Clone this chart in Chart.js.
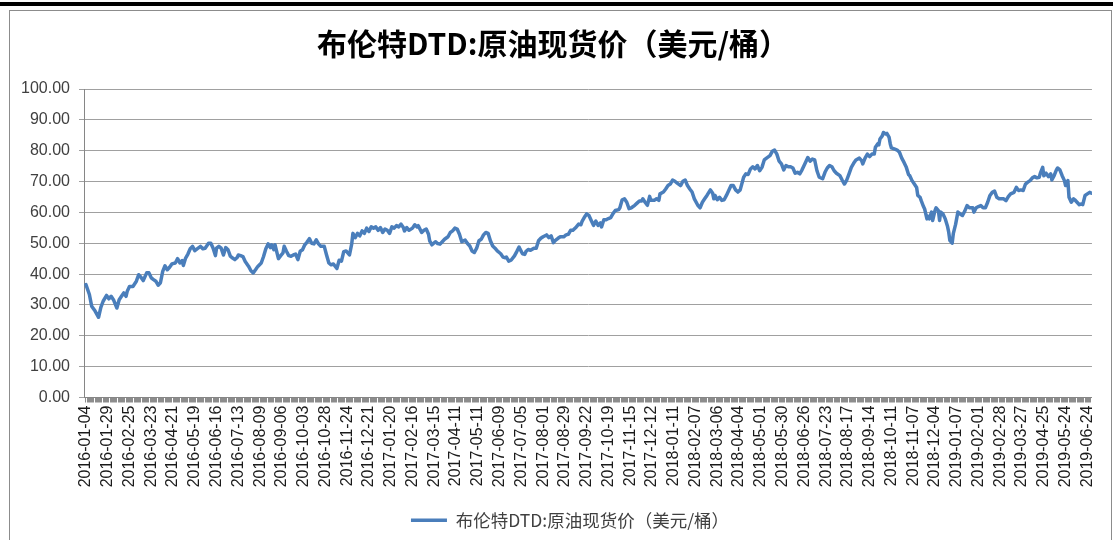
<!DOCTYPE html>
<html>
<head>
<meta charset="utf-8">
<title>布伦特DTD原油现货价</title>
<script src="https://cdn.jsdelivr.net/npm/chart.js"></script>
<style>
  body { margin: 0; background: #fff; }
  #wrap { position: relative; width: 1113px; height: 540px; overflow: hidden; }
  #topbar { position: absolute; left: 0; top: 2px; width: 1113px; height: 4px; background: #000; }
  #frame { position: absolute; left: 9px; top: 10px; width: 1101px; height: 560px; border: 1px solid #8c8c8c; }
  #chart { position: absolute; left: 0; top: 0; }
</style>
</head>
<body>
<div id="wrap">
  <div id="topbar"></div>
  <div id="frame"></div>
  <canvas id="chart" width="1113" height="540"></canvas>
</div>
<script>
const chartTitle = "布伦特DTD:原油现货价（美元/桶）";
const LABEL_STEP = 19;

const tickLabels = [
  "2016-01-04", "2016-01-29", "2016-02-25", "2016-03-23", "2016-04-21", "2016-05-19",
  "2016-06-16", "2016-07-13", "2016-08-09", "2016-09-06", "2016-10-03", "2016-10-28",
  "2016-11-24", "2016-12-21", "2017-01-20", "2017-02-16", "2017-03-15", "2017-04-11",
  "2017-05-11", "2017-06-09", "2017-07-05", "2017-08-01", "2017-08-29", "2017-09-22",
  "2017-10-19", "2017-11-15", "2017-12-12", "2018-01-11", "2018-02-07", "2018-03-06",
  "2018-04-04", "2018-05-01", "2018-05-30", "2018-06-26", "2018-07-23", "2018-08-17",
  "2018-09-14", "2018-10-11", "2018-11-07", "2018-12-04", "2019-01-07", "2019-02-01",
  "2019-02-28", "2019-03-27", "2019-04-25", "2019-05-24", "2019-06-24",
];

// trading day offset from 2016-01-04
const tradeDay = [
  0, 3, 5, 8, 11, 13, 15, 18, 20, 22, 24, 27, 29, 31, 33, 35, 36, 38, 41, 44,
  46, 48, 50, 53, 55, 57, 59, 61, 63, 65, 67, 69, 71, 73, 75, 78, 80, 82, 84, 85,
  87, 89, 91, 93, 95, 97, 100, 102, 104, 107, 109, 111, 113, 114, 116, 118, 120, 122, 124, 126,
  128, 130, 132, 133, 135, 137, 139, 142, 144, 146, 148, 150, 153, 155, 157, 159, 161, 162, 164, 165,
  168, 170, 172, 173, 175, 177, 179, 181, 183, 185, 187, 189, 191, 193, 195, 197, 199, 201, 203, 205,
  208, 210, 212, 214, 216,
  219, 221, 223, 225, 227, 230, 232, 233, 235, 237, 239, 241, 243, 245, 247, 249, 251, 253, 255, 257,
  259, 261, 263, 265, 267, 269, 271, 273, 275, 277, 278, 280, 282, 285, 287, 289, 290, 293, 295, 297,
  299, 300, 302, 305, 307, 309, 311, 313, 316, 318, 320, 322, 324, 326, 328, 331, 333, 335, 337, 339,
  341, 343, 345, 347, 349, 351, 353, 355, 357, 359, 362, 364, 366, 367, 369, 371, 374, 376, 378, 379,
  381, 383, 384, 386, 388, 391, 393, 395, 397, 399, 402, 404, 406, 408, 410, 412, 414, 417, 419, 421,
  423, 425, 428, 430, 432, 433, 435, 437,
  439, 441, 443, 445, 447, 449, 450, 452, 454, 456, 458, 460, 462, 465, 466, 468, 470, 472, 474, 476,
  479, 481, 483, 485, 486, 488, 490, 492, 493, 496, 498, 500, 501, 504, 506, 508, 510, 512, 514, 516,
  519, 521, 523, 525, 527, 529, 531, 534, 536, 538, 540, 542, 545, 547, 548, 549, 551, 553, 555, 557,
  559, 561, 563, 565, 567, 569, 571, 574, 576, 578, 580, 582, 584, 586, 588, 590, 592, 594, 597, 599,
  601, 603, 605, 607, 609, 611, 613, 615, 617, 619, 621, 623, 625, 628, 630, 632, 634, 636, 638, 640,
  643, 645, 647, 649, 651, 653, 655,
  658, 660, 662, 664, 666, 668, 670, 672, 675, 677, 678, 680, 682, 684, 686, 688, 689, 691, 692, 693,
  695, 696, 698, 699, 701, 702, 703, 706, 708, 710, 712, 714, 716, 718, 719, 721, 723, 725, 726, 728,
  729, 731, 732, 734, 735, 736, 738, 739, 741, 742, 744, 745, 746, 748, 750, 752, 753, 754, 756, 757,
  759, 761, 763, 765, 767, 769, 771, 774, 775, 777, 779, 781, 783, 785, 787, 789, 791, 793, 795, 797,
  799, 801, 803, 805, 807, 810, 812, 814, 816, 818, 820, 822, 824, 826, 828, 830, 832, 833, 835, 836,
  838, 840, 842, 843, 845, 847, 848, 850, 852, 854, 855, 857, 858, 860, 862, 863, 865, 867, 869, 870,
  872, 874, 876, 878,
];

// USD per barrel
const price = [
  36.6, 33.4, 29.6, 28.0, 26.0, 29.2, 31.2, 33.1, 32.0, 32.8, 31.7, 29.0, 31.7, 32.8, 33.9, 32.8, 34.4, 36.0, 36.0, 37.7,
  39.8, 39.0, 37.9, 40.4, 40.4, 38.8, 38.2, 37.7, 36.4, 37.2, 40.9, 42.7, 41.4, 42.2, 43.3, 43.6, 45.0, 43.6, 44.4, 42.8,
  45.2, 46.5, 48.2, 49.0, 47.6, 48.2, 49.0, 48.2, 48.4, 50.0, 50.0, 48.4, 46.0, 48.4, 49.0, 48.4, 46.2, 48.6, 47.9, 45.8,
  45.2, 44.7, 45.4, 46.2, 46.0, 45.7, 44.1, 42.5, 41.1, 40.4, 41.4, 42.5, 43.6, 45.7, 48.2, 49.8, 48.6, 49.5, 47.9, 49.5,
  45.0, 46.0, 46.9, 49.0, 47.4, 46.0, 45.8, 46.2, 46.5, 44.7, 47.4, 47.9, 49.5, 50.4, 51.5, 50.0, 49.8, 51.1, 49.8, 49.0,
  49.0, 46.2, 43.6, 43.0, 43.3,
  41.8, 44.5, 44.2, 47.3, 47.5, 46.2, 49.9, 53.2, 51.8, 53.2, 52.4, 54.0, 53.2, 54.9, 53.8, 55.3, 54.9, 55.3, 54.2, 55.1,
  53.5, 54.6, 54.2, 53.2, 55.3, 54.9, 55.7, 55.3, 56.2, 55.1, 54.0, 55.1, 54.2, 54.9, 56.0, 55.3, 55.7, 53.5, 54.2, 54.6,
  52.9, 50.8, 49.5, 50.5, 49.9, 49.7, 50.5, 51.3, 52.1, 53.5, 54.0, 54.9, 54.6, 52.9, 50.5, 51.0, 49.9, 49.1, 47.5, 47.0,
  48.4, 50.8, 51.3, 52.7, 53.5, 53.2, 50.8, 49.1, 48.4, 47.5, 46.6, 45.5, 45.3, 45.5, 44.2, 44.5, 45.9, 47.3, 48.8, 48.0,
  46.6, 46.4, 47.3, 48.0, 47.7, 48.4, 48.4, 50.8, 51.6, 52.1, 52.7, 51.8, 52.4, 50.2, 51.0, 51.6, 52.1, 52.1, 52.7, 52.9,
  54.2, 54.2, 55.3, 56.2, 56.0, 57.1, 58.4, 59.5,
  59.0, 57.4, 55.8, 57.2, 55.8, 56.6, 55.3, 57.6, 57.6, 58.0, 58.3, 59.6, 60.6, 60.9, 61.5, 64.1, 64.4, 63.3, 61.2, 61.5,
  62.3, 63.0, 63.7, 63.7, 64.4, 63.3, 62.3, 65.2, 63.9, 63.9, 64.4, 63.9, 66.0, 66.6, 67.6, 68.7, 69.2, 70.5, 70.1, 69.5,
  68.7, 70.1, 70.5, 68.7, 67.6, 66.6, 64.4, 62.3, 61.5, 63.3, 64.4, 65.5, 67.3, 66.2, 64.4, 65.5, 64.1, 64.9, 63.9, 64.1,
  65.5, 67.1, 68.7, 68.7, 67.3, 66.6, 67.3, 71.4, 72.5, 72.3, 74.1, 74.8, 74.1, 75.2, 73.5, 74.6, 77.0, 77.6, 78.4, 79.8,
  80.2, 78.9, 76.6, 75.7, 73.8, 75.2, 74.8, 74.8, 74.4, 72.7, 73.0, 72.5, 73.8, 76.2, 77.8, 76.6, 77.3, 77.0, 73.5, 71.4,
  70.9, 73.0, 74.4, 75.2, 74.8, 73.5, 72.7,
  71.9, 70.5, 69.2, 70.5, 72.5, 74.6, 75.9, 77.0, 77.6, 76.8, 75.7, 77.6, 78.9, 78.1, 78.9, 78.9, 81.1, 82.2, 81.9, 83.8,
  84.8, 85.9, 85.4, 85.6, 84.3, 82.2, 80.9, 80.5, 80.2, 79.5, 77.6, 76.2, 74.6, 72.2, 71.9, 70.3, 69.2, 68.1, 65.5, 64.9,
  63.8, 61.9, 61.1, 57.9, 58.7, 57.9, 60.1, 57.4, 60.6, 61.5, 60.6, 57.4, 60.1, 59.5, 57.9, 55.4, 53.6, 50.9, 50.0, 53.1,
  56.1, 60.1, 59.5, 59.0, 60.4, 62.2, 61.5, 61.5, 60.1, 61.5, 61.9, 62.2, 61.5, 61.5, 63.3, 65.5, 66.5, 66.9, 64.9, 64.4,
  64.4, 64.4, 63.8, 65.1, 66.0, 66.5, 68.1, 67.1, 67.3, 67.1, 69.2, 69.8, 70.3, 71.2, 71.6, 71.2, 71.4, 72.7, 74.6, 71.9,
  72.7, 71.6, 72.5, 70.5, 71.9, 73.8, 74.4, 73.8, 71.9, 70.3, 68.7, 70.3, 64.9, 63.3, 64.4, 64.1, 63.3, 62.5, 62.8, 62.5,
  65.5, 66.0, 66.5, 66.2,
];

const points = price.map((v, i) => ({ x: tradeDay[i], y: v }));

// one small tick mark per trading day, like the category axis in the original
const dayTicks = [];
for (let d = 0; d <= 877; d++) dayTicks.push({ value: d });

// the legend sits a little right of centre in the original
const legendShift = {
  id: "legendShift",
  afterLayout(chart) {
    chart.legend.left += 17;
    chart.legend.right += 17;
  },
};

const ctx = document.getElementById("chart").getContext("2d");
new Chart(ctx, {
  type: "line",
  data: {
    datasets: [
      {
        label: chartTitle,
        data: points,
        borderColor: "#4a7ebb",
        backgroundColor: "#4a7ebb",
        borderWidth: 3.5,
        pointRadius: 0,
        pointStyle: "line",
        tension: 0,
        borderJoinStyle: "round",
        borderCapStyle: "round",
      },
    ],
  },
  plugins: [legendShift],
  options: {
    responsive: false,
    animation: false,
    layout: { padding: { left: 0, right: 7, top: 26, bottom: 1 } },
    plugins: {
      title: {
        display: true,
        text: chartTitle,
        color: "#000",
        font: { family: "'Noto Sans CJK SC', sans-serif", size: 30, weight: "bold" },
        padding: { top: 0, bottom: 27 },
      },
      legend: {
        position: "bottom",
        labels: {
          usePointStyle: true,
          pointStyleWidth: 36,
          color: "#404040",
          font: { family: "'Noto Sans CJK SC', sans-serif", size: 17.5 },
          padding: 10,
        },
      },
      tooltip: { enabled: false },
    },
    scales: {
      x: {
        type: "linear",
        min: -1.7,
        max: 878,
        afterBuildTicks: (scale) => {
          scale.ticks = dayTicks;
        },
        afterFit: (scale) => {
          scale.height = 104;
        },
        ticks: {
          autoSkip: false,
          minRotation: 90,
          maxRotation: 90,
          padding: 3,
          color: "#1a1a1a",
          font: { family: "'Liberation Sans', Arial, sans-serif", size: 16 },
          callback: (v) => (v % LABEL_STEP === 0 ? tickLabels[v / LABEL_STEP] : ""),
        },
        grid: { drawOnChartArea: false, tickLength: 5, color: "#8c8c8c" },
        border: { color: "#868686" },
      },
      y: {
        min: 0,
        max: 100,
        afterFit: (scale) => {
          scale.width = 84;
        },
        ticks: {
          stepSize: 10,
          padding: 9,
          color: "#404040",
          font: { family: "'Liberation Sans', Arial, sans-serif", size: 16 },
          callback: (v) => v.toFixed(2),
        },
        grid: { color: "#a0a0a0", tickLength: 5 },
        border: { color: "#868686" },
      },
    },
  },
});
</script>
</body>
</html>
